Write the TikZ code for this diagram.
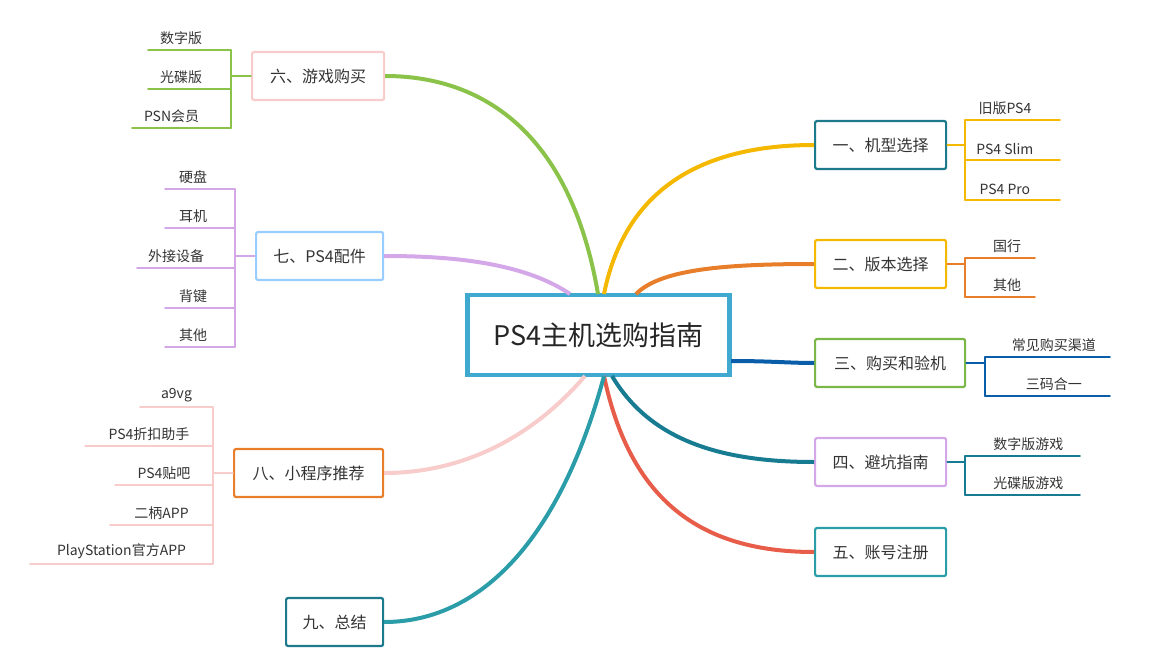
\documentclass[tikz,border=0pt]{standalone}
\usepackage{fontspec}
\setmainfont{Noto Sans CJK SC}
\begin{document}
\begin{tikzpicture}[x=1pt,y=-1pt,
  box/.style={draw,line width=2.2pt,rounded corners=2pt,minimum height=48pt,inner xsep=10pt,font=\fontsize{16}{18}\selectfont,text=black!80,anchor=west},
  sub/.style={font=\fontsize{14}{16}\selectfont,text=black!80},
  br/.style={line width=1.6pt,line cap=round}]
\definecolor{cYel}{HTML}{F5B800}\definecolor{cOra}{HTML}{E87D2A}\definecolor{cBlu}{HTML}{0A5DA8}
\definecolor{cTea}{HTML}{177B91}\definecolor{cRed}{HTML}{E85D4A}\definecolor{cGre}{HTML}{8BC34A}
\definecolor{cLil}{HTML}{D4A8E8}\definecolor{cPin}{HTML}{F9CCCC}\definecolor{cTe2}{HTML}{2A9DA8}
\definecolor{cDk}{HTML}{1C7A8C}\definecolor{cGr2}{HTML}{7AB648}\definecolor{cLb}{HTML}{99CCFF}
\definecolor{cCen}{HTML}{3FA9D0}
\useasboundingbox (0,0) rectangle (1154,666);
% central
\node[draw=cCen,line width=4.5pt,minimum width=262pt,minimum height=80pt,font=\fontsize{27}{30}\selectfont,text=black!85] (c) at (598.5,335) {PS4主机选购指南};
% right boxes
\node[box,draw=cDk,minimum width=131pt] (b1) at (814,145) {一、机型选择};
\node[box,draw=cYel,minimum width=131pt] (b2) at (814,264) {二、版本选择};
\node[box,draw=cGr2,minimum width=150pt] (b3) at (814,363) {三、购买和验机};
\node[box,draw=cLil,minimum width=131pt] (b4) at (814,462) {四、避坑指南};
\node[box,draw=cTe2,minimum width=131pt] (b5) at (814,552) {五、账号注册};
% left boxes
\node[box,draw=cPin,minimum width=132pt] (b6) at (251,76) {六、游戏购买};
\node[box,draw=cLb,minimum width=127pt] (b7) at (255,256) {七、PS4配件};
\node[box,draw=cOra,minimum width=149pt] (b8) at (233,473) {八、小程序推荐};
\node[box,draw=cDk,minimum width=97pt] (b9) at (285,622) {九、总结};
% start points
\coordinate (s1) at (604,294); \coordinate (s2) at (636,294); \coordinate (s3) at (731,361);
\coordinate (s4) at (612,376); \coordinate (s5) at (604,376); \coordinate (s6) at (598,294);
\coordinate (s7) at (570,294); \coordinate (s8) at (585,376); \coordinate (s9) at (604,376);
\draw[cYel,line width=4pt] (s1) .. controls (625,190) and (700,145) .. (b1.west);
\draw[cOra,line width=4pt] (s2) .. controls (660,270) and (720,264) .. (b2.west);
\draw[cBlu,line width=4pt] (s3) .. controls (770,361) and (790,363) .. (b3.west);
\draw[cTea,line width=4pt] (s4) .. controls (650,440) and (720,462) .. (b4.west);
\draw[cRed,line width=4pt] (s5) .. controls (630,500) and (700,552) .. (b5.west);
\draw[cGre,line width=4pt] (s6) .. controls (570,130) and (480,76) .. (b6.east);
\draw[cLil,line width=4pt] (s7) .. controls (520,260) and (440,256) .. (b7.east);
\draw[cPin,line width=4pt] (s8) .. controls (530,440) and (460,473) .. (b8.east);
\draw[cTe2,line width=4pt] (s9) .. controls (560,540) and (480,622) .. (b9.east);
% right subs
\draw[br,cYel] (b1.east) -- (965,145) (965,120) -- (965,200);
\foreach \y/\t in {120/旧版PS4,160/PS4 Slim,200/PS4 Pro}{\draw[br,cYel] (965,\y) -- (1060,\y) node[sub,pos=0.42,above=1pt] (n) {\t};}
\draw[br,cOra] (b2.east) -- (965,264) (965,258) -- (965,297);
\foreach \y/\t in {258/国行,297/其他}{\draw[br,cOra] (965,\y) -- (1035,\y) node[sub,pos=0.6,above=1pt] (n) {\t};}
\draw[br,cBlu] (b3.east) -- (985,363) (985,357) -- (985,396);
\foreach \y/\t in {357/常见购买渠道,396/三码合一}{\draw[br,cBlu] (985,\y) -- (1110,\y) node[sub,pos=0.55,above=1pt] (n) {\t};}
\draw[br,cTea] (b4.east) -- (965,462) (965,456) -- (965,495);
\foreach \y/\t in {456/数字版游戏,495/光碟版游戏}{\draw[br,cTea] (965,\y) -- (1080,\y) node[sub,pos=0.55,above=1pt] (n) {\t};}
% left subs
\draw[br,cGre] (b6.west) -- (231,76) (231,50) -- (231,128);
\foreach \y/\x/\t in {50/148/数字版,89/148/光碟版,128/132/PSN会员}{\draw[br,cGre] (231,\y) -- (\x,\y) node[sub,pos=0.6,above=1pt] (n) {\t};}
\draw[br,cLil] (b7.west) -- (235,256) (235,189) -- (235,347);
\foreach \y/\x/\t in {189/165/硬盘,228/165/耳机,268/137/外接设备,308/165/背键,347/165/其他}{\draw[br,cLil] (235,\y) -- (\x,\y) node[sub,pos=0.6,above=1pt] (n) {\t};}
\draw[br,cPin] (b8.west) -- (213,473) (213,407) -- (213,564);
\foreach \y/\x/\t in {407/140/a9vg,446/85/PS4折扣助手,485/115/PS4贴吧,525/110/二柄APP,564/30/PlayStation官方APP}{\draw[br,cPin] (213,\y) -- (\x,\y) node[sub,pos=0.5,above=1pt] (n) {\t};}
\end{tikzpicture}
\end{document}
